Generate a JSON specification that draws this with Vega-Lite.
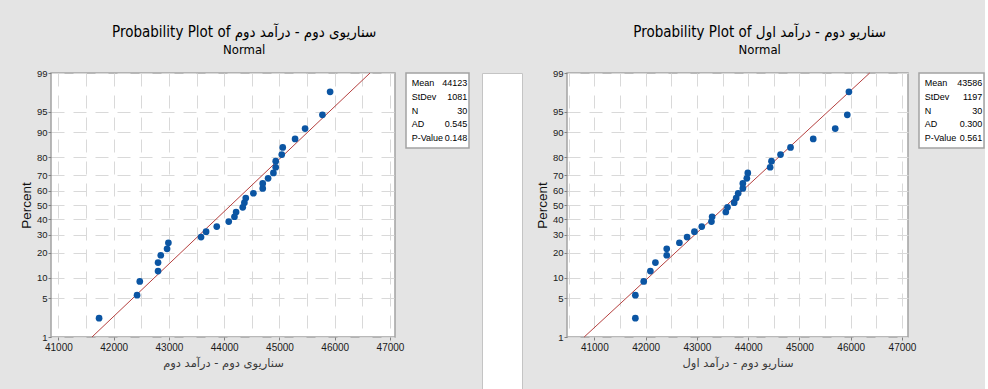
{
  "$schema": "https://vega.github.io/schema/vega-lite/v6.json",
  "padding": {"left": 18, "top": 0, "right": 0, "bottom": 0},
  "background": "#e4e4e4",
  "spacing": 11,
  "config": {
    "font": "Liberation Sans, DejaVu Sans",
    "axis": {
      "labelFont": "Liberation Sans",
      "labelFontSize": 9.5,
      "labelColor": "#1a1a1a",
      "titleFont": "Liberation Sans, DejaVu Sans",
      "titleFontSize": 13.5,
      "titleFontWeight": "normal",
      "titleColor": "#111111",
      "domain": false,
      "tickColor": "#808080",
      "tickSize": 3,
      "labelPadding": 1,
      "gridColor": "#d9d9d9",
      "gridDash": [13, 9],
      "gridWidth": 1
    },
    "title": {
      "font": "DejaVu Sans Condensed, DejaVu Sans",
      "fontSize": 15,
      "fontWeight": "normal",
      "color": "#000000",
      "subtitleFont": "DejaVu Sans Condensed, DejaVu Sans",
      "subtitleFontSize": 13,
      "subtitleColor": "#000000",
      "lineHeight": 25,
      "subtitlePadding": 4,
      "offset": 10,
      "anchor": "middle",
      "frame": "bounds"
    }
  },
  "datasets": {
    "pts1": [
      {"v": 41736, "pct": 2.3}, {"v": 42423, "pct": 5.6}, {"v": 42472, "pct": 8.9}, {"v": 42803, "pct": 12.2},
      {"v": 42803, "pct": 15.5}, {"v": 42852, "pct": 18.8}, {"v": 42966, "pct": 22.0}, {"v": 42990, "pct": 25.3},
      {"v": 43581, "pct": 28.6}, {"v": 43672, "pct": 31.9}, {"v": 43865, "pct": 35.2}, {"v": 44082, "pct": 38.5},
      {"v": 44185, "pct": 41.8}, {"v": 44215, "pct": 45.1}, {"v": 44335, "pct": 48.4}, {"v": 44365, "pct": 51.6},
      {"v": 44390, "pct": 54.9}, {"v": 44528, "pct": 58.2}, {"v": 44697, "pct": 61.5}, {"v": 44697, "pct": 64.8},
      {"v": 44794, "pct": 68.1}, {"v": 44890, "pct": 71.4}, {"v": 44932, "pct": 74.7}, {"v": 44932, "pct": 78.0},
      {"v": 45041, "pct": 81.3}, {"v": 45059, "pct": 84.5}, {"v": 45282, "pct": 87.8}, {"v": 45463, "pct": 91.1},
      {"v": 45777, "pct": 94.4}, {"v": 45916, "pct": 97.7}
    ],
    "pts2": [
      {"v": 41800, "pct": 2.3}, {"v": 41800, "pct": 5.6}, {"v": 41963, "pct": 8.9}, {"v": 42093, "pct": 12.2},
      {"v": 42191, "pct": 15.5}, {"v": 42412, "pct": 18.8}, {"v": 42412, "pct": 22.0}, {"v": 42659, "pct": 25.3},
      {"v": 42809, "pct": 28.6}, {"v": 42952, "pct": 31.9}, {"v": 43095, "pct": 35.2}, {"v": 43284, "pct": 38.5},
      {"v": 43297, "pct": 41.8}, {"v": 43564, "pct": 45.1}, {"v": 43597, "pct": 48.4}, {"v": 43727, "pct": 51.6},
      {"v": 43766, "pct": 54.9}, {"v": 43805, "pct": 58.2}, {"v": 43896, "pct": 61.5}, {"v": 43896, "pct": 64.8},
      {"v": 43974, "pct": 68.1}, {"v": 43993, "pct": 71.4}, {"v": 44429, "pct": 74.7}, {"v": 44455, "pct": 78.0},
      {"v": 44631, "pct": 81.3}, {"v": 44826, "pct": 84.5}, {"v": 45269, "pct": 87.8}, {"v": 45698, "pct": 91.1},
      {"v": 45933, "pct": 94.4}, {"v": 45965, "pct": 97.7}
    ],
    "fit1": [{"v": 41608, "pct": 1}, {"v": 46638, "pct": 99}],
    "fit2": [{"v": 40802, "pct": 1}, {"v": 46370, "pct": 99}],
    "st1": [
      {"stat": "Mean", "val": "44123"}, {"stat": "StDev", "val": "1081"}, {"stat": "N", "val": "30"},
      {"stat": "AD", "val": "0.545"}, {"stat": "P-Value", "val": "0.148"}
    ],
    "st2": [
      {"stat": "Mean", "val": "43586"}, {"stat": "StDev", "val": "1197"}, {"stat": "N", "val": "30"},
      {"stat": "AD", "val": "0.300"}, {"stat": "P-Value", "val": "0.561"}
    ]
  },
  "hconcat": [
    {
      "title": {"text": ["", "Probability Plot of سناریوی دوم - درآمد دوم"], "subtitle": "Normal"},
      "bounds": "flush",
      "spacing": 11,
      "hconcat": [
        {
          "width": 344,
          "height": 264,
          "view": {"fill": "white", "stroke": "#a3a3a3", "strokeWidth": 1.5},
          "encoding": {
            "x": {
              "field": "v", "type": "quantitative", "title": "سناریوی دوم - درآمد دوم",
              "scale": {"domain": [40866, 47090], "nice": false, "zero": false},
              "axis": {
                "values": [41000, 41500, 42000, 42500, 43000, 43500, 44000, 44500, 45000, 45500, 46000, 46500, 47000],
                "format": "d", "labelFontSize": 10, "labelPadding": 2, "titlePadding": 5, "titleColor": "#3a3a3a",
                "titleFont": "DejaVu Sans", "titleFontSize": 11.5,
                "labelExpr": "datum.value % 1000 === 0 ? datum.label : ''",
                "tickOpacity": {"condition": {"test": "datum.value % 1000 === 0", "value": 1}, "value": 0}
              }
            },
            "y": {
              "field": "z", "type": "quantitative", "title": "Percent",
              "scale": {"domain": [-2.3263, 2.3263], "nice": false, "zero": false},
              "axis": {
                "values": [-2.3263, -1.6449, -1.2816, -0.8416, -0.5244, -0.2533, 0, 0.2533, 0.5244, 0.8416, 1.2816, 1.6449, 2.3263],
                "labelExpr": "round(cumulativeNormal(datum.value) * 100)", "titlePadding": 3
              }
            }
          },
          "layer": [
            {
              "data": {"name": "fit1"},
              "transform": [{"calculate": "quantileNormal(datum.pct / 100)", "as": "z"}],
              "mark": {"type": "line", "color": "#b5403f", "strokeWidth": 1}
            },
            {
              "data": {"name": "pts1"},
              "transform": [{"calculate": "quantileNormal(datum.pct / 100)", "as": "z"}],
              "mark": {"type": "circle", "size": 45, "color": "#0b55a3", "opacity": 1}
            }
          ]
        },
        {
          "width": 63,
          "height": 75,
          "view": {"fill": "white", "stroke": "#a3a3a3", "strokeWidth": 1.5},
          "data": {"name": "st1"},
          "encoding": {
            "y": {"field": "stat", "type": "nominal", "sort": null, "scale": {"type": "point", "padding": 0.68}, "axis": null}
          },
          "layer": [
            {
              "mark": {"type": "text", "align": "left", "font": "Liberation Sans", "fontSize": 9, "color": "#000000"},
              "encoding": {"text": {"field": "stat"}, "x": {"datum": 0, "type": "quantitative", "scale": {"domain": [-0.102, 1.03], "nice": false, "zero": false}, "axis": null}}
            },
            {
              "mark": {"type": "text", "align": "right", "font": "Liberation Sans", "fontSize": 9, "color": "#000000"},
              "encoding": {"text": {"field": "val"}, "x": {"datum": 1, "type": "quantitative", "axis": null}}
            }
          ]
        }
      ]
    },
    {
      "width": 40,
      "height": 389,
      "view": {"fill": "white", "stroke": "#c4c4c4", "strokeWidth": 1},
      "data": {"values": [{}]},
      "mark": {"type": "rect", "color": "white", "opacity": 0}
    },
    {
      "title": {"text": ["", "Probability Plot of سناریو دوم - درآمد اول"], "subtitle": "Normal"},
      "bounds": "flush",
      "spacing": 11,
      "hconcat": [
        {
          "width": 341,
          "height": 264,
          "view": {"fill": "white", "stroke": "#a3a3a3", "strokeWidth": 1.5},
          "encoding": {
            "x": {
              "field": "v", "type": "quantitative", "title": "سناریو دوم - درآمد اول",
              "scale": {"domain": [40467, 47117], "nice": false, "zero": false},
              "axis": {
                "values": [40500, 41000, 41500, 42000, 42500, 43000, 43500, 44000, 44500, 45000, 45500, 46000, 46500, 47000],
                "format": "d", "labelFontSize": 10, "labelPadding": 2, "titlePadding": 5, "titleColor": "#3a3a3a",
                "titleFont": "DejaVu Sans", "titleFontSize": 11.5,
                "labelExpr": "datum.value % 1000 === 0 ? datum.label : ''",
                "tickOpacity": {"condition": {"test": "datum.value % 1000 === 0", "value": 1}, "value": 0}
              }
            },
            "y": {
              "field": "z", "type": "quantitative", "title": "Percent",
              "scale": {"domain": [-2.3263, 2.3263], "nice": false, "zero": false},
              "axis": {
                "values": [-2.3263, -1.6449, -1.2816, -0.8416, -0.5244, -0.2533, 0, 0.2533, 0.5244, 0.8416, 1.2816, 1.6449, 2.3263],
                "labelExpr": "round(cumulativeNormal(datum.value) * 100)", "titlePadding": 3
              }
            }
          },
          "layer": [
            {
              "data": {"name": "fit2"},
              "transform": [{"calculate": "quantileNormal(datum.pct / 100)", "as": "z"}],
              "mark": {"type": "line", "color": "#b5403f", "strokeWidth": 1}
            },
            {
              "data": {"name": "pts2"},
              "transform": [{"calculate": "quantileNormal(datum.pct / 100)", "as": "z"}],
              "mark": {"type": "circle", "size": 45, "color": "#0b55a3", "opacity": 1}
            }
          ]
        },
        {
          "width": 65,
          "height": 75,
          "view": {"fill": "white", "stroke": "#a3a3a3", "strokeWidth": 1.5},
          "data": {"name": "st2"},
          "encoding": {
            "y": {"field": "stat", "type": "nominal", "sort": null, "scale": {"type": "point", "padding": 0.68}, "axis": null}
          },
          "layer": [
            {
              "mark": {"type": "text", "align": "left", "font": "Liberation Sans", "fontSize": 9, "color": "#000000"},
              "encoding": {"text": {"field": "stat"}, "x": {"datum": 0, "type": "quantitative", "scale": {"domain": [-0.102, 1.03], "nice": false, "zero": false}, "axis": null}}
            },
            {
              "mark": {"type": "text", "align": "right", "font": "Liberation Sans", "fontSize": 9, "color": "#000000"},
              "encoding": {"text": {"field": "val"}, "x": {"datum": 1, "type": "quantitative", "axis": null}}
            }
          ]
        }
      ]
    }
  ]
}
